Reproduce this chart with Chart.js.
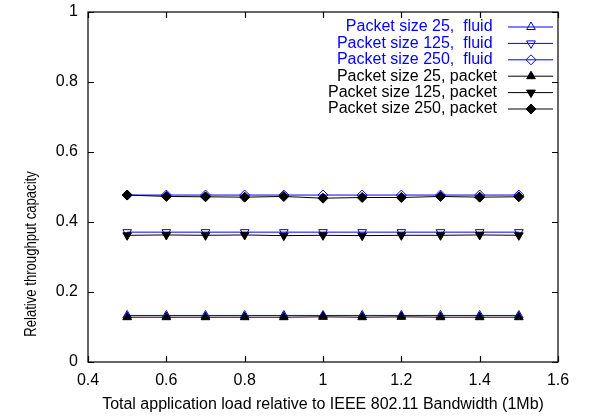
<!DOCTYPE html>
<html>
<head>
<meta charset="utf-8">
<script src="https://cdn.jsdelivr.net/npm/chart.js@4.4.1/dist/chart.umd.min.js"></script>
<style>
  html, body { margin: 0; padding: 0; background: #fff; }
  #wrap { width: 600px; height: 418px; }
</style>
</head>
<body>
<div id="wrap"><canvas id="chart" width="600" height="418"></canvas></div>
<script>
// x values: total application load
const loads = [0.5, 0.6, 0.7, 0.8, 0.9, 1.0, 1.1, 1.2, 1.3, 1.4, 1.5];

const fluid25 = [0.133, 0.133, 0.133, 0.133, 0.133, 0.133, 0.133, 0.133, 0.133, 0.133, 0.133];
const fluid125 = [0.371, 0.371, 0.371, 0.371, 0.371, 0.371, 0.371, 0.371, 0.371, 0.371, 0.371];
const fluid250 = [0.477, 0.477, 0.477, 0.477, 0.477, 0.477, 0.477, 0.477, 0.477, 0.477, 0.477];
const packet25 = [0.128, 0.128, 0.128, 0.128, 0.128, 0.129, 0.128, 0.129, 0.128, 0.128, 0.128];
const packet125 = [0.362, 0.363, 0.362, 0.363, 0.361, 0.362, 0.361, 0.362, 0.362, 0.363, 0.362];
const packet250 = [0.477, 0.473, 0.472, 0.471, 0.473, 0.468, 0.470, 0.470, 0.473, 0.471, 0.472];

const seriesLabels = [
    'Packet size 25,  fluid ',
    'Packet size 125,  fluid ',
    'Packet size 250,  fluid ',
    'Packet size 25, packet',
    'Packet size 125, packet',
    'Packet size 250, packet'
];

const xTitle = 'Total application load relative to IEEE 802.11 Bandwidth (1Mb)';
const yTitle = 'Relative throughput capacity';

const BLUE = '#0000ff';
const FONT = '"Liberation Sans", Arial, sans-serif';

function toPoints(ys) {
    return loads.map((x, i) => ({ x: x, y: ys[i] }));
}

function fmtTick(v) {
    return String(parseFloat(v.toFixed(1)));
}

function makeSet(label, ys, color, style, rotation, filled, order) {
    return {
        label: label,
        data: toPoints(ys),
        showLine: true,
        borderColor: color,
        borderWidth: 1,
        pointStyle: style,
        rotation: rotation,
        pointRadius: 5,
        pointHoverRadius: 5,
        pointBorderColor: color,
        pointBackgroundColor: filled ? color : 'rgba(0,0,0,0)',
        pointBorderWidth: 1,
        order: order,
    };
}

// frame with inward ticks on all four sides (gnuplot look)
const framePlugin = {
    id: 'frame',
    afterDraw(chart) {
        const { ctx, chartArea: a, scales } = chart;
        const tl = 6;
        ctx.save();
        ctx.strokeStyle = '#000';
        ctx.lineWidth = 1.2;
        ctx.strokeRect(a.left, a.top, a.right - a.left, a.bottom - a.top);
        ctx.beginPath();
        scales.x.ticks.forEach(t => {
            const px = Math.round(scales.x.getPixelForValue(t.value)) + 0.5;
            ctx.moveTo(px, a.bottom); ctx.lineTo(px, a.bottom - tl);
            ctx.moveTo(px, a.top); ctx.lineTo(px, a.top + tl);
        });
        scales.y.ticks.forEach(t => {
            const py = Math.round(scales.y.getPixelForValue(t.value)) + 0.5;
            ctx.moveTo(a.left, py); ctx.lineTo(a.left + tl, py);
            ctx.moveTo(a.right, py); ctx.lineTo(a.right - tl, py);
        });
        ctx.stroke();

        // y axis title, drawn a bit condensed like the original
        ctx.translate(32, 254);
        ctx.rotate(-Math.PI / 2);
        ctx.scale(0.82, 1);
        ctx.fillStyle = '#000';
        ctx.font = '16px ' + FONT;
        ctx.textAlign = 'center';
        ctx.textBaseline = 'middle';
        ctx.fillText(yTitle, 0, 0);
        ctx.restore();
    }
};

// gnuplot style key: right aligned text, then line sample with marker
const keyPlugin = {
    id: 'key',
    afterDraw(chart) {
        const ctx = chart.ctx;
        const textRight = 497;
        const lineL = 508, lineR = 553, mark = 531;
        const top = 27, step = 16.4;
        ctx.save();
        ctx.font = '16px ' + FONT;
        ctx.textAlign = 'right';
        ctx.textBaseline = 'middle';
        chart.data.datasets.forEach((ds, i) => {
            const y = top + i * step;
            ctx.fillStyle = ds.borderColor;
            ctx.fillText(ds.label, textRight, y);
            ctx.strokeStyle = ds.borderColor;
            ctx.lineWidth = 1;
            ctx.beginPath();
            ctx.moveTo(lineL, y);
            ctx.lineTo(lineR, y);
            ctx.stroke();
            ctx.fillStyle = ds.pointBackgroundColor;
            ctx.strokeStyle = ds.pointBorderColor;
            Chart.helpers.drawPoint(ctx, {
                pointStyle: ds.pointStyle,
                rotation: ds.rotation,
                radius: 5,
                borderWidth: 1
            }, mark, y);
        });
        ctx.restore();
    }
};

const ctx = document.getElementById('chart').getContext('2d');
new Chart(ctx, {
    type: 'scatter',
    data: {
        datasets: [
            makeSet(seriesLabels[0], fluid25, BLUE, 'triangle', 0, false, 1),
            makeSet(seriesLabels[1], fluid125, BLUE, 'triangle', 180, false, 1),
            makeSet(seriesLabels[2], fluid250, BLUE, 'rectRot', 0, false, 1),
            makeSet(seriesLabels[3], packet25, '#000', 'triangle', 0, true, 0),
            makeSet(seriesLabels[4], packet125, '#000', 'triangle', 180, true, 0),
            makeSet(seriesLabels[5], packet250, '#000', 'rectRot', 0, true, 0),
        ]
    },
    options: {
        responsive: false,
        animation: false,
        layout: { padding: { top: 12, right: 42, left: 0, bottom: 0 } },
        scales: {
            x: {
                type: 'linear',
                min: 0.4,
                max: 1.6,
                ticks: { stepSize: 0.2, color: '#000', padding: 9, font: { family: FONT, size: 16 }, maxRotation: 0, callback: fmtTick },
                grid: { display: false, drawTicks: false },
                border: { display: false },
                title: { display: true, text: xTitle, color: '#000', font: { family: FONT, size: 16 }, padding: { top: 0, bottom: 4 } },
                afterFit(scale) { scale.height = 56; scale.paddingLeft = 0; scale.paddingRight = 0; }
            },
            y: {
                min: 0,
                max: 1,
                ticks: { stepSize: 0.2, color: '#000', padding: 10, font: { family: FONT, size: 16 }, callback: fmtTick },
                grid: { display: false, drawTicks: false },
                border: { display: false },
                afterFit(scale) { scale.width = 88; scale.paddingTop = 0; scale.paddingBottom = 0; }
            }
        },
        plugins: {
            legend: { display: false },
            tooltip: { enabled: false }
        }
    },
    plugins: [framePlugin, keyPlugin]
});
</script>
</body>
</html>
